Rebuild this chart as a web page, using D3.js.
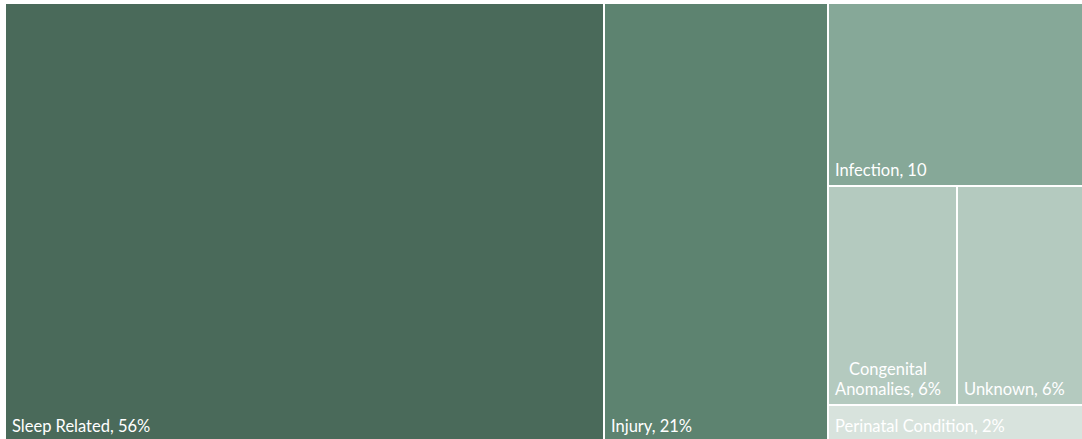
<!DOCTYPE html>
<html>
<head>
<meta charset="utf-8">
<script src="https://cdn.jsdelivr.net/npm/d3@7"></script>
<style>
  html, body { margin: 0; padding: 0; background: #ffffff; }
  svg { display: block; }
</style>
</head>
<body>
<svg id="chart" width="1082" height="439"></svg>
<script>
// Causes of death, share of total (%)
const categories = ["Sleep Related", "Injury", "Infection", "Congenital Anomalies", "Unknown", "Perinatal Condition"];
const values = [56, 21, 10, 6, 6, 2];
const labels = [
  ["Sleep Related, 56%"],
  ["Injury, 21%"],
  ["Infection, 10"],
  ["Congenital", "Anomalies, 6%"],
  ["Unknown, 6%"],
  ["Perinatal Condition, 2%"]
];
const colors = ["#4a6a5a", "#5d8370", "#86a898", "#b4cabf", "#b4cabf", "#d8e3dd"];

const W = 1082, H = 439;
const svg = d3.select("#chart");

const leaf = i => ({ name: categories[i], value: values[i], idx: i });

// Columns left to right; the last column stacks rows top to bottom,
// and its middle row places two cells side by side.
const tree = {
  children: [
    leaf(0),
    leaf(1),
    { children: [leaf(2), { children: [leaf(3), leaf(4)] }, leaf(5)] }
  ]
};

const root = d3.hierarchy(tree).sum(d => d.value || 0);

d3.treemap()
  .tile(d3.treemapSliceDice)
  .size([W - 6 + 2, H - 4 + 2])
  .paddingInner(2)
  .round(true)(root);

const g = svg.append("g").attr("transform", "translate(6,4)");

const cell = g.selectAll("g.cell")
  .data(root.leaves())
  .join("g")
  .attr("class", "cell")
  .attr("transform", d => `translate(${d.x0},${d.y0})`);

cell.append("rect")
  .attr("width", d => d.x1 - d.x0)
  .attr("height", d => d.y1 - d.y0)
  .attr("fill", d => colors[d.data.idx]);

cell.append("clipPath")
  .attr("id", d => "clip" + d.data.idx)
  .append("rect")
  .attr("width", d => d.x1 - d.x0)
  .attr("height", d => d.y1 - d.y0);

const lineH = 20;
cell.append("text")
  .attr("clip-path", d => `url(#clip${d.data.idx})`)
  .attr("font-family", "Lato, 'Open Sans', sans-serif")
  .attr("font-size", 16.5)
  .attr("fill", "#ffffff")
  .each(function (d) {
    const lines = labels[d.data.idx];
    const h = d.y1 - d.y0;
    const t = d3.select(this);
    const spans = lines.map((ln, j) =>
      t.append("tspan")
        .attr("y", h - 9 - (lines.length - 1 - j) * lineH)
        .text(ln));
    if (lines.length > 1) {
      // centre the lines on one another, block starting at the left pad
      const widest = d3.max(spans, s => s.node().getComputedTextLength());
      spans.forEach(s => s.attr("x", 6 + widest / 2).attr("text-anchor", "middle"));
    } else {
      spans[0].attr("x", 6);
    }
  });
</script>
</body>
</html>
